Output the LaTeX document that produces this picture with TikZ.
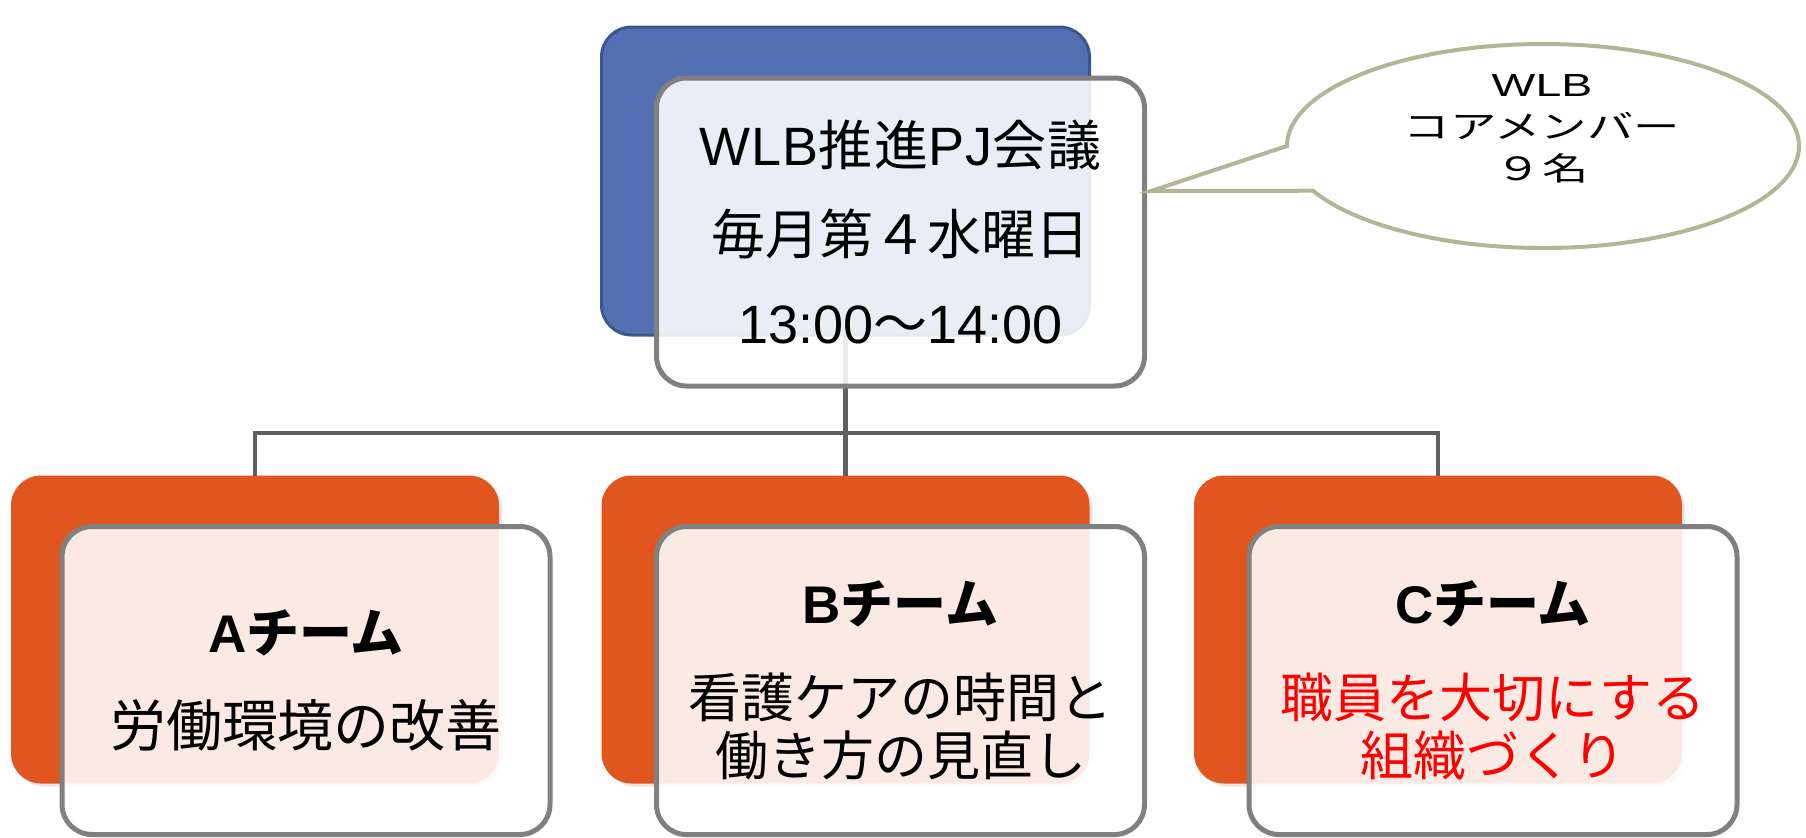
\documentclass[tikz,border=0pt]{standalone}
\usepackage{fontspec}
\usepackage{graphicx}
\setmainfont{Liberation Sans}
\newfontfamily\jp{Noto Sans CJK JP}
\usetikzlibrary{shadows}
\definecolor{bluefill}{RGB}{82,112,178}
\definecolor{blueline}{RGB}{62,86,142}
\definecolor{orangefill}{RGB}{225,86,30}
\definecolor{boxline}{RGB}{128,128,128}
\definecolor{connline}{RGB}{96,96,96}
\definecolor{bubline}{RGB}{180,180,150}
\begin{document}
\begin{tikzpicture}[x=0.5pt,y=-0.5pt]
\tikzset{
  back/.style={rectangle, rounded corners=15pt, minimum width=244pt, minimum height=154pt, inner sep=0pt, outer sep=0pt},
  bluebox/.style={back, fill=bluefill, draw=blueline, line width=1.5pt},
  orangebox/.style={back, fill=orangefill, drop shadow={shadow xshift=1.5pt, shadow yshift=-1.5pt, opacity=0.2}},
  frontbox/.style={back, fill=white, fill opacity=0.88, text opacity=1, draw=boxline, draw opacity=1, line width=2.5pt, align=center},
  conn/.style={draw=connline, line width=2.2pt},
  bubble/.style={draw=bubline, line width=2pt, fill=white, line join=miter},
  maintext/.style={font=\fontsize{26.5}{29}\selectfont},
}
\useasboundingbox (0,0) rectangle (1806,837);
\coordinate (bar) at (0,433);
% back boxes and connectors
\node[bluebox] (pj) at (845.5,181) {};
\node[orangebox] (ta) at (255,629.5) {};
\node[orangebox] (tb) at (845.5,629.5) {};
\node[orangebox] (tc) at (1438,629.5) {};
\draw[conn] (pj.south) -- (tb.north);
\draw[conn] (ta.north) -- (ta.north |- bar) -- (tc.north |- bar) -- (tc.north);
% front boxes
\node[frontbox, font=\fontsize{27}{44.5}\selectfont] (pjw) at (900.5,232)
  {\addfontfeatures{LetterSpace=2}WLB{\jp\addfontfeatures{LetterSpace=2} 推進}PJ{\jp\addfontfeatures{LetterSpace=2} 会議}\\{\jp 毎月第４水曜日}\\13:00{\jp ～}14:00};
\node[frontbox, maintext] (taw) at (306,680.5)
  {\textbf{A{\jp チーム}}\\[18pt]{\fontsize{28}{29}\selectfont\jp 労働環境の改善}};
\node[frontbox, maintext] (tbw) at (900.5,680.5)
  {\textbf{B{\jp チーム}}\\[18pt]{\jp 看護ケアの時間と}\\{\jp 働き方の見直し}};
\node[frontbox, maintext] (tcw) at (1493,680.5)
  {\textbf{C{\jp チーム}}\\[18pt]\textcolor{red}{\jp 職員を大切にする}\\\textcolor{red}{\jp 組織づくり}};
% speech bubble
\coordinate (tip) at (1151,191);
\coordinate (bc) at (1543,146);
\draw[bubble] (1287,146) arc[start angle=180, end angle=514, x radius=256, y radius=102] -- (tip) -- cycle;
\node[align=center, font=\fontsize{16}{21}\selectfont, inner sep=0pt] (bubtext) at (1542,128.5)
  {\scalebox{1.45}[1]{WLB}\\\scalebox{1.45}[1]{\jp コアメンバー}\\\scalebox{1.45}[1]{\jp ９名}};
\end{tikzpicture}
\end{document}
